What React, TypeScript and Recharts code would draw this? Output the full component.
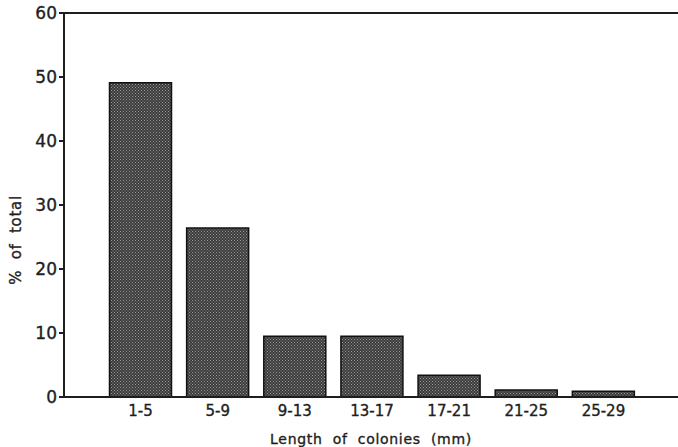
import { BarChart, Bar, XAxis, YAxis, ReferenceLine, Label } from 'recharts';

const categories = ['1-5', '5-9', '9-13', '13-17', '17-21', '21-25', '25-29'];
const percentOfTotal = [49.1, 26.4, 9.5, 9.5, 3.4, 1.1, 0.9];
const yTicks = [0, 10, 20, 30, 40, 50, 60];

const data = categories.map((range, i) => ({ range, value: percentOfTotal[i] }));

const font = '"DejaVu Sans", Verdana, sans-serif';
const ink = '#1e1e1e';
// slight outline so the text reads as heavy as the printed figure
const heavy = { stroke: ink, strokeWidth: 0.35 };

export default function App() {
    return (
        <div style={{ position: 'absolute', left: 0, top: 0, background: '#fff' }}>
            <BarChart
                width={678}
                height={447}
                data={data}
                margin={{ top: 13, right: 0, bottom: 0, left: 0 }}
                barCategoryGap={7.5}
            >
                <defs>
                    <pattern id="hatch" width="3" height="3" patternUnits="userSpaceOnUse">
                        <rect width="3" height="3" fill="#3a3a3a" />
                        <rect x="0" y="0" width="1" height="1" fill="#9a9a9a" />
                        <rect x="1.5" y="1.5" width="1" height="1" fill="#9a9a9a" />
                    </pattern>
                </defs>
                <XAxis
                    dataKey="range"
                    height={50}
                    padding={{ left: 38, right: 36 }}
                    axisLine={{ stroke: ink, strokeWidth: 2 }}
                    tickLine={false}
                    tickMargin={2}
                    tick={{ fill: ink, fontSize: 15, fontFamily: font, ...heavy }}
                    interval={0}
                >
                    <Label
                        value="Length of colonies (mm)"
                        position="insideBottom"
                        offset={3}
                        style={{ fill: ink, fontSize: 14, fontFamily: font, wordSpacing: 5, letterSpacing: 0.7, ...heavy }}
                    />
                </XAxis>
                <YAxis
                    width={64}
                    domain={[0, 60]}
                    ticks={yTicks}
                    interval={0}
                    axisLine={{ stroke: ink, strokeWidth: 2 }}
                    tickLine={{ stroke: ink, strokeWidth: 2 }}
                    tickSize={5}
                    tickMargin={2}
                    tick={{ fill: ink, fontSize: 17, fontFamily: font, ...heavy }}
                >
                    <Label
                        content={() => (
                            <text
                                x={21}
                                y={240}
                                transform="rotate(-90 21 240)"
                                textAnchor="middle"
                                style={{ fill: ink, fontSize: 15, fontFamily: font, wordSpacing: 5, letterSpacing: 0.7, ...heavy }}
                            >
                                % of total
                            </text>
                        )}
                    />
                </YAxis>
                <ReferenceLine y={60} stroke={ink} strokeWidth={2} />
                <Bar
                    dataKey="value"
                    fill="url(#hatch)"
                    stroke="#111"
                    strokeWidth={1.5}
                    isAnimationActive={false}
                />
            </BarChart>
        </div>
    );
}
